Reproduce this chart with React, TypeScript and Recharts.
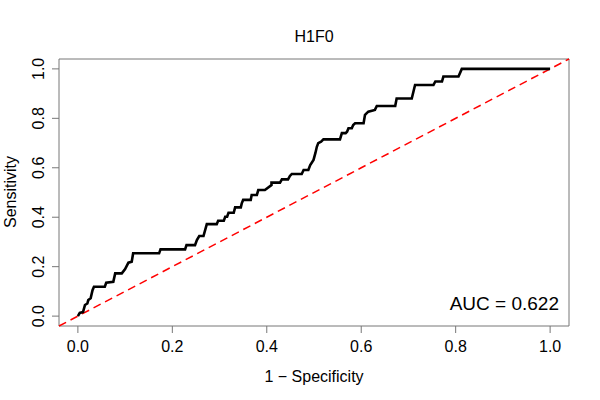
import React from 'react'
import { LineChart, Line, XAxis, YAxis, ReferenceLine, ReferenceArea } from 'recharts'

// ROC staircase (1 - specificity, sensitivity)
const fpr = [
  0, 0.004, 0.011, 0.015, 0.02, 0.022, 0.027, 0.031, 0.034, 0.057, 0.06, 0.075,
  0.079, 0.093, 0.1, 0.107, 0.114, 0.117, 0.172, 0.175, 0.227, 0.23, 0.248, 0.252,
  0.257, 0.266, 0.273, 0.294, 0.297, 0.309, 0.312, 0.316, 0.319, 0.33, 0.333, 0.345,
  0.347, 0.35, 0.366, 0.368, 0.379, 0.382, 0.396, 0.41, 0.41, 0.428, 0.432, 0.445,
  0.449, 0.453, 0.474, 0.478, 0.488, 0.492, 0.499, 0.503, 0.506, 0.509, 0.515, 0.52,
  0.555, 0.559, 0.567, 0.57, 0.573, 0.58, 0.583, 0.587, 0.605, 0.608, 0.615, 0.629,
  0.633, 0.672, 0.675, 0.707, 0.714, 0.753, 0.757, 0.771, 0.774, 0.806, 0.813, 1,
]
const tpr = [
  0, 0.013, 0.017, 0.045, 0.051, 0.065, 0.072, 0.105, 0.119, 0.119, 0.135, 0.139,
  0.173, 0.173, 0.19, 0.216, 0.22, 0.254, 0.254, 0.27, 0.27, 0.287, 0.287, 0.308,
  0.324, 0.324, 0.372, 0.372, 0.386, 0.386, 0.402, 0.402, 0.418, 0.418, 0.44, 0.44,
  0.456, 0.47, 0.47, 0.49, 0.49, 0.51, 0.51, 0.53, 0.54, 0.54, 0.553, 0.553,
  0.567, 0.575, 0.575, 0.591, 0.591, 0.611, 0.632, 0.66, 0.685, 0.7, 0.706, 0.715,
  0.715, 0.74, 0.74, 0.746, 0.76, 0.76, 0.773, 0.78, 0.78, 0.814, 0.827, 0.834,
  0.85, 0.85, 0.88, 0.88, 0.935, 0.935, 0.949, 0.949, 0.969, 0.969, 1, 1,
]
const ticks = [0, 0.2, 0.4, 0.6, 0.8, 1]
const title = 'H1F0'
const aucLabel = 'AUC = 0.622'

const FONT = '"Liberation Sans", Arial, Helvetica, sans-serif'
const BOX = '#777'

const data = fpr.map((x, i) => ({ fpr: x, tpr: tpr[i] }))

const YTick = ({ x, y, payload }: any) => (
  <text
    x={x - 8}
    y={y}
    transform={`rotate(-90, ${x - 8}, ${y})`}
    textAnchor="middle"
    fontSize={16}
    fontFamily={FONT}
    fill="#000"
  >
    {payload.value.toFixed(1)}
  </text>
)

export default function App() {
  return (
    <div style={{ position: 'absolute', left: 0, top: 0, width: 600, height: 400, background: '#fff' }}>
      <LineChart
        width={600}
        height={400}
        data={data}
        margin={{ top: 59, right: 31, bottom: 0, left: 0 }}
      >
        <XAxis
          dataKey="fpr"
          type="number"
          domain={[-0.04, 1.04]}
          ticks={ticks}
          allowDataOverflow
          axisLine={false}
          tickSize={7}
          tickMargin={8}
          tickLine={{ stroke: BOX }}
          tickFormatter={(v: number) => v.toFixed(1)}
          tick={{ fill: '#000', fontSize: 16, fontFamily: FONT }}
          height={74}
        />
        <YAxis
          dataKey="tpr"
          type="number"
          domain={[-0.04, 1.04]}
          ticks={ticks}
          allowDataOverflow
          axisLine={false}
          tickSize={7}
          tickMargin={0}
          tickLine={{ stroke: BOX }}
          tick={<YTick />}
          width={59}
        />
        <ReferenceArea
          x1={-0.04}
          x2={1.04}
          y1={-0.04}
          y2={1.04}
          fill="none"
          fillOpacity={0}
          stroke={BOX}
          strokeWidth={1}
        />
        <ReferenceLine
          segment={[{ x: -0.04, y: -0.04 }, { x: 1.04, y: 1.04 }]}
          stroke="#ff0000"
          strokeWidth={1.5}
          strokeDasharray="8 5"
        />
        <Line
          type="linear"
          dataKey="tpr"
          stroke="#000"
          strokeWidth={2.6}
          dot={false}
          activeDot={false}
          isAnimationActive={false}
        />
      </LineChart>
      <svg
        width={600}
        height={400}
        style={{ position: 'absolute', left: 0, top: 0, pointerEvents: 'none' }}
        fontFamily={FONT}
      >
        <text x={314} y={42} textAnchor="middle" fontSize={16}>{title}</text>
        <text x={314} y={382} textAnchor="middle" fontSize={16}>1 − Specificity</text>
        <text
          x={16}
          y={192}
          textAnchor="middle"
          fontSize={16}
          transform="rotate(-90, 16, 192)"
        >
          Sensitivity
        </text>
        <text x={559} y={310} textAnchor="end" fontSize={19}>{aucLabel}</text>
      </svg>
    </div>
  )
}
